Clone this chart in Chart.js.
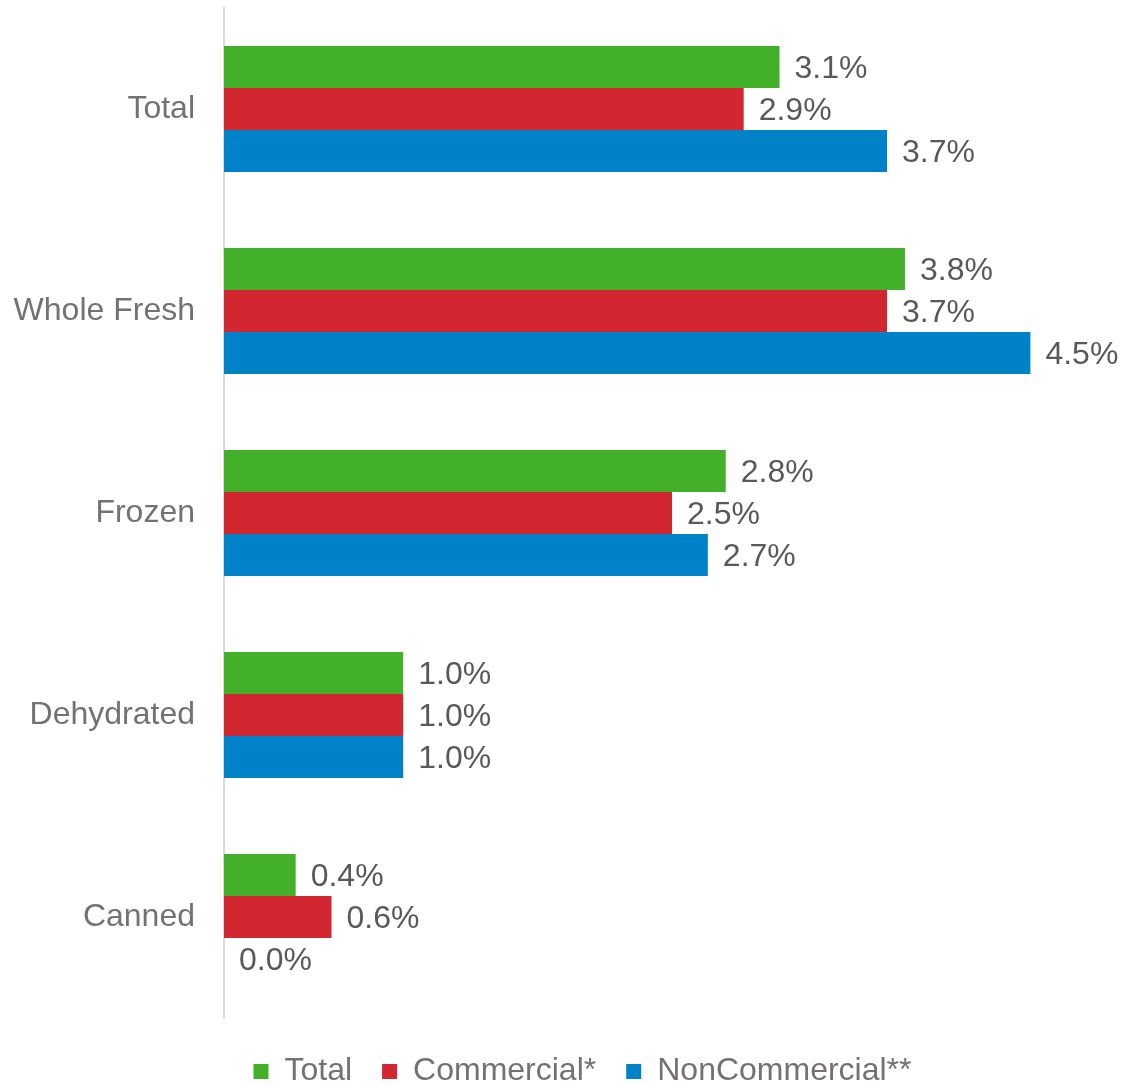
<!DOCTYPE html>
<html>
<head>
<meta charset="utf-8">
<style>
  html, body { margin: 0; padding: 0; background: #ffffff; }
  #wrap { width: 1138px; height: 1085px; position: relative; }
</style>
<script src="https://cdn.jsdelivr.net/npm/chart.js@4.4.1/dist/chart.umd.min.js"></script>
</head>
<body>
<div id="wrap"><canvas id="growthChart"></canvas></div>
<script>
const categories = ["Total", "Whole Fresh", "Frozen", "Dehydrated", "Canned"];
const totalValues = [3.1, 3.8, 2.8, 1.0, 0.4];
const commercialValues = [2.9, 3.7, 2.5, 1.0, 0.6];
const nonCommercialValues = [3.7, 4.5, 2.7, 1.0, 0.0];

const fontFamily = "'Liberation Sans', Arial, sans-serif";

// writes "x.x%" just past the end of every bar
const valueLabels = {
  id: "valueLabels",
  afterDatasetsDraw(chart) {
    const ctx = chart.ctx;
    ctx.save();
    ctx.font = `32px ${fontFamily}`;
    ctx.fillStyle = "#595959";
    ctx.textAlign = "left";
    ctx.textBaseline = "middle";
    chart.data.datasets.forEach((ds, i) => {
      const meta = chart.getDatasetMeta(i);
      meta.data.forEach((bar, j) => {
        ctx.fillText(ds.data[j].toFixed(1) + "%", bar.x + 15, bar.y + 2);
      });
    });
    ctx.restore();
  },
};

// nudge the legend row a little to the right of the canvas centre
const legendShift = {
  id: "legendShift",
  afterLayout(chart) {
    if (chart.legend) {
      chart.legend.left += 45;
    }
  },
};

function buildBarChart(ctx) {
  return new Chart(ctx, {
    type: "bar",
    data: {
      labels: categories,
      datasets: [
        {
          label: "Total",
          data: totalValues,
          backgroundColor: "#43b02a",
        },
        {
          label: "Commercial*",
          data: commercialValues,
          backgroundColor: "#d22630",
        },
        {
          label: "NonCommercial**",
          data: nonCommercialValues,
          backgroundColor: "#0082c8",
        },
      ],
    },
    options: {
      indexAxis: "y",
      responsive: true,
      maintainAspectRatio: false,
      animation: false,
      datasets: {
        bar: {
          categoryPercentage: 0.624,
          barPercentage: 1,
        },
      },
      layout: {
        padding: { left: 0, right: 18, top: 8, bottom: -12.5 },
      },
      plugins: {
        legend: {
          position: "bottom",
          labels: {
            boxWidth: 15,
            boxHeight: 15,
            padding: 30,
            color: "#767171",
            font: { family: fontFamily, size: 32 },
          },
        },
        tooltip: { enabled: false },
      },
      scales: {
        x: {
          min: 0,
          max: 5,
          ticks: { display: false },
          grid: { display: false, drawTicks: false },
          border: { display: false },
          afterFit(scale) {
            scale.height = 7.5;
            scale.paddingLeft = 0;
            scale.paddingRight = 0;
          },
        },
        y: {
          grid: { display: false, drawTicks: false },
          border: { display: true, color: "#d9d9d9", width: 2 },
          ticks: {
            color: "#767171",
            padding: 29,
            font: { family: fontFamily, size: 32 },
          },
          afterFit(scale) {
            scale.width = 224;
            scale.paddingTop = 0;
            scale.paddingBottom = 0;
          },
        },
      },
    },
    plugins: [valueLabels, legendShift],
  });
}

buildBarChart(document.getElementById("growthChart"));
</script>
</body>
</html>
